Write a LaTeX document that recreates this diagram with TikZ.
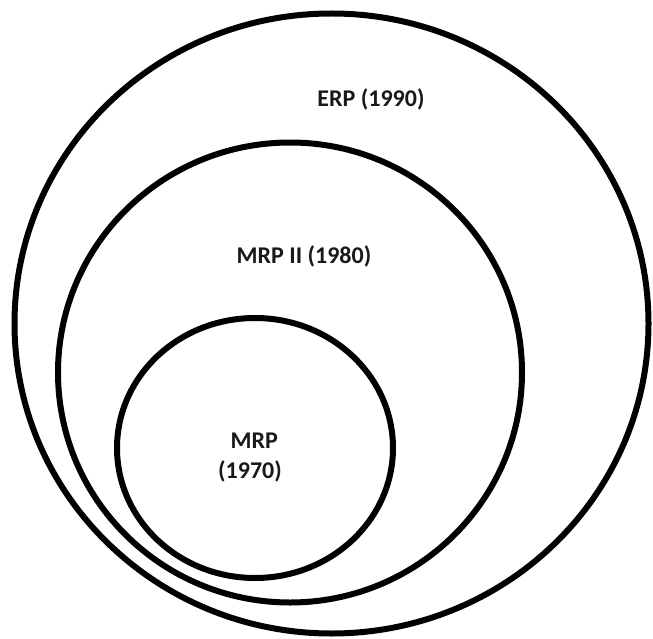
\documentclass[tikz,border=0pt]{standalone}
\usepackage{fontspec}
\setmainfont{Carlito}
\begin{document}
\begin{tikzpicture}[x=1pt,y=-1pt,
  ring/.style={draw=black,line width=6pt},
  lbl/.style={font=\bfseries\fontsize{24}{27}\selectfont,text=black!90,align=center,inner sep=0pt}]
  \useasboundingbox (0,0) rectangle (653,639);
  % nested scopes of planning systems
  \draw[ring] (331.5,323.5) ellipse [x radius=317, y radius=310];
  \draw[ring] (290,372.5) ellipse [x radius=232, y radius=230];
  \draw[ring] (255,448) ellipse [x radius=138, y radius=130];
  \node[lbl] (erp) at (371,99) {ERP (1990)};
  \node[lbl] (mrpii) at (304,256) {MRP II (1980)};
  \node[lbl] (mrp) at (250,458) {\hspace*{0.35em}MRP\\[3pt](1970)};
\end{tikzpicture}
\end{document}
